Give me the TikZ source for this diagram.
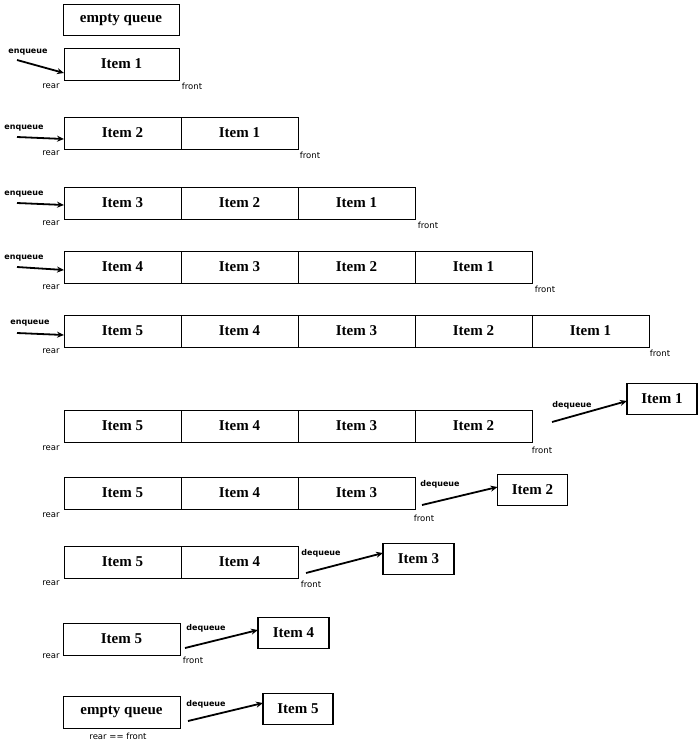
\documentclass[tikz,border=0pt]{standalone}
\usepackage{fontspec}
\setmainfont{Liberation Serif}
\newfontfamily\lblfont{DejaVu Sans}
\usetikzlibrary{arrows.meta}
\begin{document}
\begin{tikzpicture}[x=1pt,y=-1pt,
  cell/.style={draw,line width=0.8pt,outer sep=0pt,minimum width=117pt,minimum height=32pt,inner sep=0pt,font=\fontsize{15}{15}\selectfont\bfseries},
  outbox/.style={draw,line width=1.2pt,outer sep=0pt,minimum width=70pt,minimum height=31pt,inner sep=0pt,font=\fontsize{15}{15}\selectfont\bfseries},
  lbl/.style={font=\lblfont\fontsize{8.5}{8.5}\selectfont,inner sep=0pt},
  oplbl/.style={font=\lblfont\fontsize{8}{8}\selectfont\bfseries,inner sep=0pt},
  op/.style={line width=1.8pt,-{Stealth[length=7pt,width=6pt]}}]
\useasboundingbox (0,0) rectangle (700,745);
% row 0
\node[cell,minimum width=116pt,minimum height=31pt] (e0) at (121,19.5) {empty queue};
% row 1
\node[cell,minimum width=115pt] (r1a) at (121.5,64) {Item 1};
\coordinate (s1) at (17,60);
\draw[op] (s1) -- (r1a.west |- 0,73);
\node[oplbl] (q1) at (28,52) {enqueue};
\node[lbl] (rear1) at (51,86) {rear};
\node[lbl] (front1) at (192,86) {front};
% row 2
\node[cell] (r2a) at (122.5,133) {Item 2};
\node[cell,anchor=west] (r2b) at (r2a.east) {Item 1};
\coordinate (s2) at (17,137);
\draw[op] (s2) -- (r2a.west |- 0,139);
\node[oplbl] (q2) at (24,128) {enqueue};
\node[lbl] (rear2) at (51,153) {rear};
\node[lbl] (front2) at (310,155) {front};
% row 3
\node[cell] (r3a) at (122.5,203) {Item 3};
\node[cell,anchor=west] (r3b) at (r3a.east) {Item 2};
\node[cell,anchor=west] (r3c) at (r3b.east) {Item 1};
\coordinate (s3) at (17,203);
\draw[op] (s3) -- (r3a.west |- 0,205);
\node[oplbl] (q3) at (24,194) {enqueue};
\node[lbl] (rear3) at (51,223) {rear};
\node[lbl] (front3) at (428,225) {front};
% row 4
\node[cell] (r4a) at (122.5,267) {Item 4};
\node[cell,anchor=west] (r4b) at (r4a.east) {Item 3};
\node[cell,anchor=west] (r4c) at (r4b.east) {Item 2};
\node[cell,anchor=west] (r4d) at (r4c.east) {Item 1};
\coordinate (s4) at (17,267);
\draw[op] (s4) -- (r4a.west |- 0,270);
\node[oplbl] (q4) at (24,258) {enqueue};
\node[lbl] (rear4) at (51,287) {rear};
\node[lbl] (front4) at (545,289) {front};
% row 5
\node[cell] (r5a) at (122.5,331) {Item 5};
\node[cell,anchor=west] (r5b) at (r5a.east) {Item 4};
\node[cell,anchor=west] (r5c) at (r5b.east) {Item 3};
\node[cell,anchor=west] (r5d) at (r5c.east) {Item 2};
\node[cell,anchor=west] (r5e) at (r5d.east) {Item 1};
\coordinate (s5) at (17,333);
\draw[op] (s5) -- (r5a.west |- 0,335);
\node[oplbl] (q5) at (30,323) {enqueue};
\node[lbl] (rear5) at (51,351) {rear};
\node[lbl] (front5) at (660,353) {front};
% row 6
\node[cell] (r6a) at (122.5,426) {Item 5};
\node[cell,anchor=west] (r6b) at (r6a.east) {Item 4};
\node[cell,anchor=west] (r6c) at (r6b.east) {Item 3};
\node[cell,anchor=west] (r6d) at (r6c.east) {Item 2};
\node[lbl] (rear6) at (51,448) {rear};
\node[lbl] (front6) at (542,450) {front};
\node[outbox] (o1) at (662,399) {Item 1};
\coordinate (d1) at (552,422);
\draw[op] (d1) -- (o1.west |- 0,401);
\node[oplbl] (dq1) at (572,405) {dequeue};
% row 7
\node[cell] (r7a) at (122.5,493) {Item 5};
\node[cell,anchor=west] (r7b) at (r7a.east) {Item 4};
\node[cell,anchor=west] (r7c) at (r7b.east) {Item 3};
\node[lbl] (rear7) at (51,515) {rear};
\node[lbl] (front7) at (424,518) {front};
\node[outbox] (o2) at (532.5,490) {Item 2};
\coordinate (d2) at (422,505);
\draw[op] (d2) -- (o2.west |- 0,487);
\node[oplbl] (dq2) at (440,484) {dequeue};
% row 8
\node[cell] (r8a) at (122.5,562) {Item 5};
\node[cell,anchor=west] (r8b) at (r8a.east) {Item 4};
\node[lbl] (rear8) at (51,583) {rear};
\node[lbl] (front8) at (311,584) {front};
\node[outbox,minimum width=71pt] (o3) at (418.5,559) {Item 3};
\coordinate (d3) at (306,573);
\draw[op] (d3) -- (o3.west |- 0,553);
\node[oplbl] (dq3) at (321,553) {dequeue};
% row 9
\node[cell] (r9a) at (121.5,639) {Item 5};
\node[lbl] (rear9) at (51,656) {rear};
\node[lbl] (front9) at (193,660) {front};
\node[outbox,minimum width=71pt] (o4) at (293.5,633) {Item 4};
\coordinate (d4) at (185,648);
\draw[op] (d4) -- (o4.west |- 0,630);
\node[oplbl] (dq4) at (206,628) {dequeue};
% row 10
\node[cell] (e10) at (121.5,712) {empty queue};
\node[lbl] (rf) at (118,736) {rear == front};
\node[outbox] (o5) at (298,709) {Item 5};
\coordinate (d5) at (188,721);
\draw[op] (d5) -- (o5.west |- 0,703);
\node[oplbl] (dq5) at (206,704) {dequeue};
\end{tikzpicture}
\end{document}
